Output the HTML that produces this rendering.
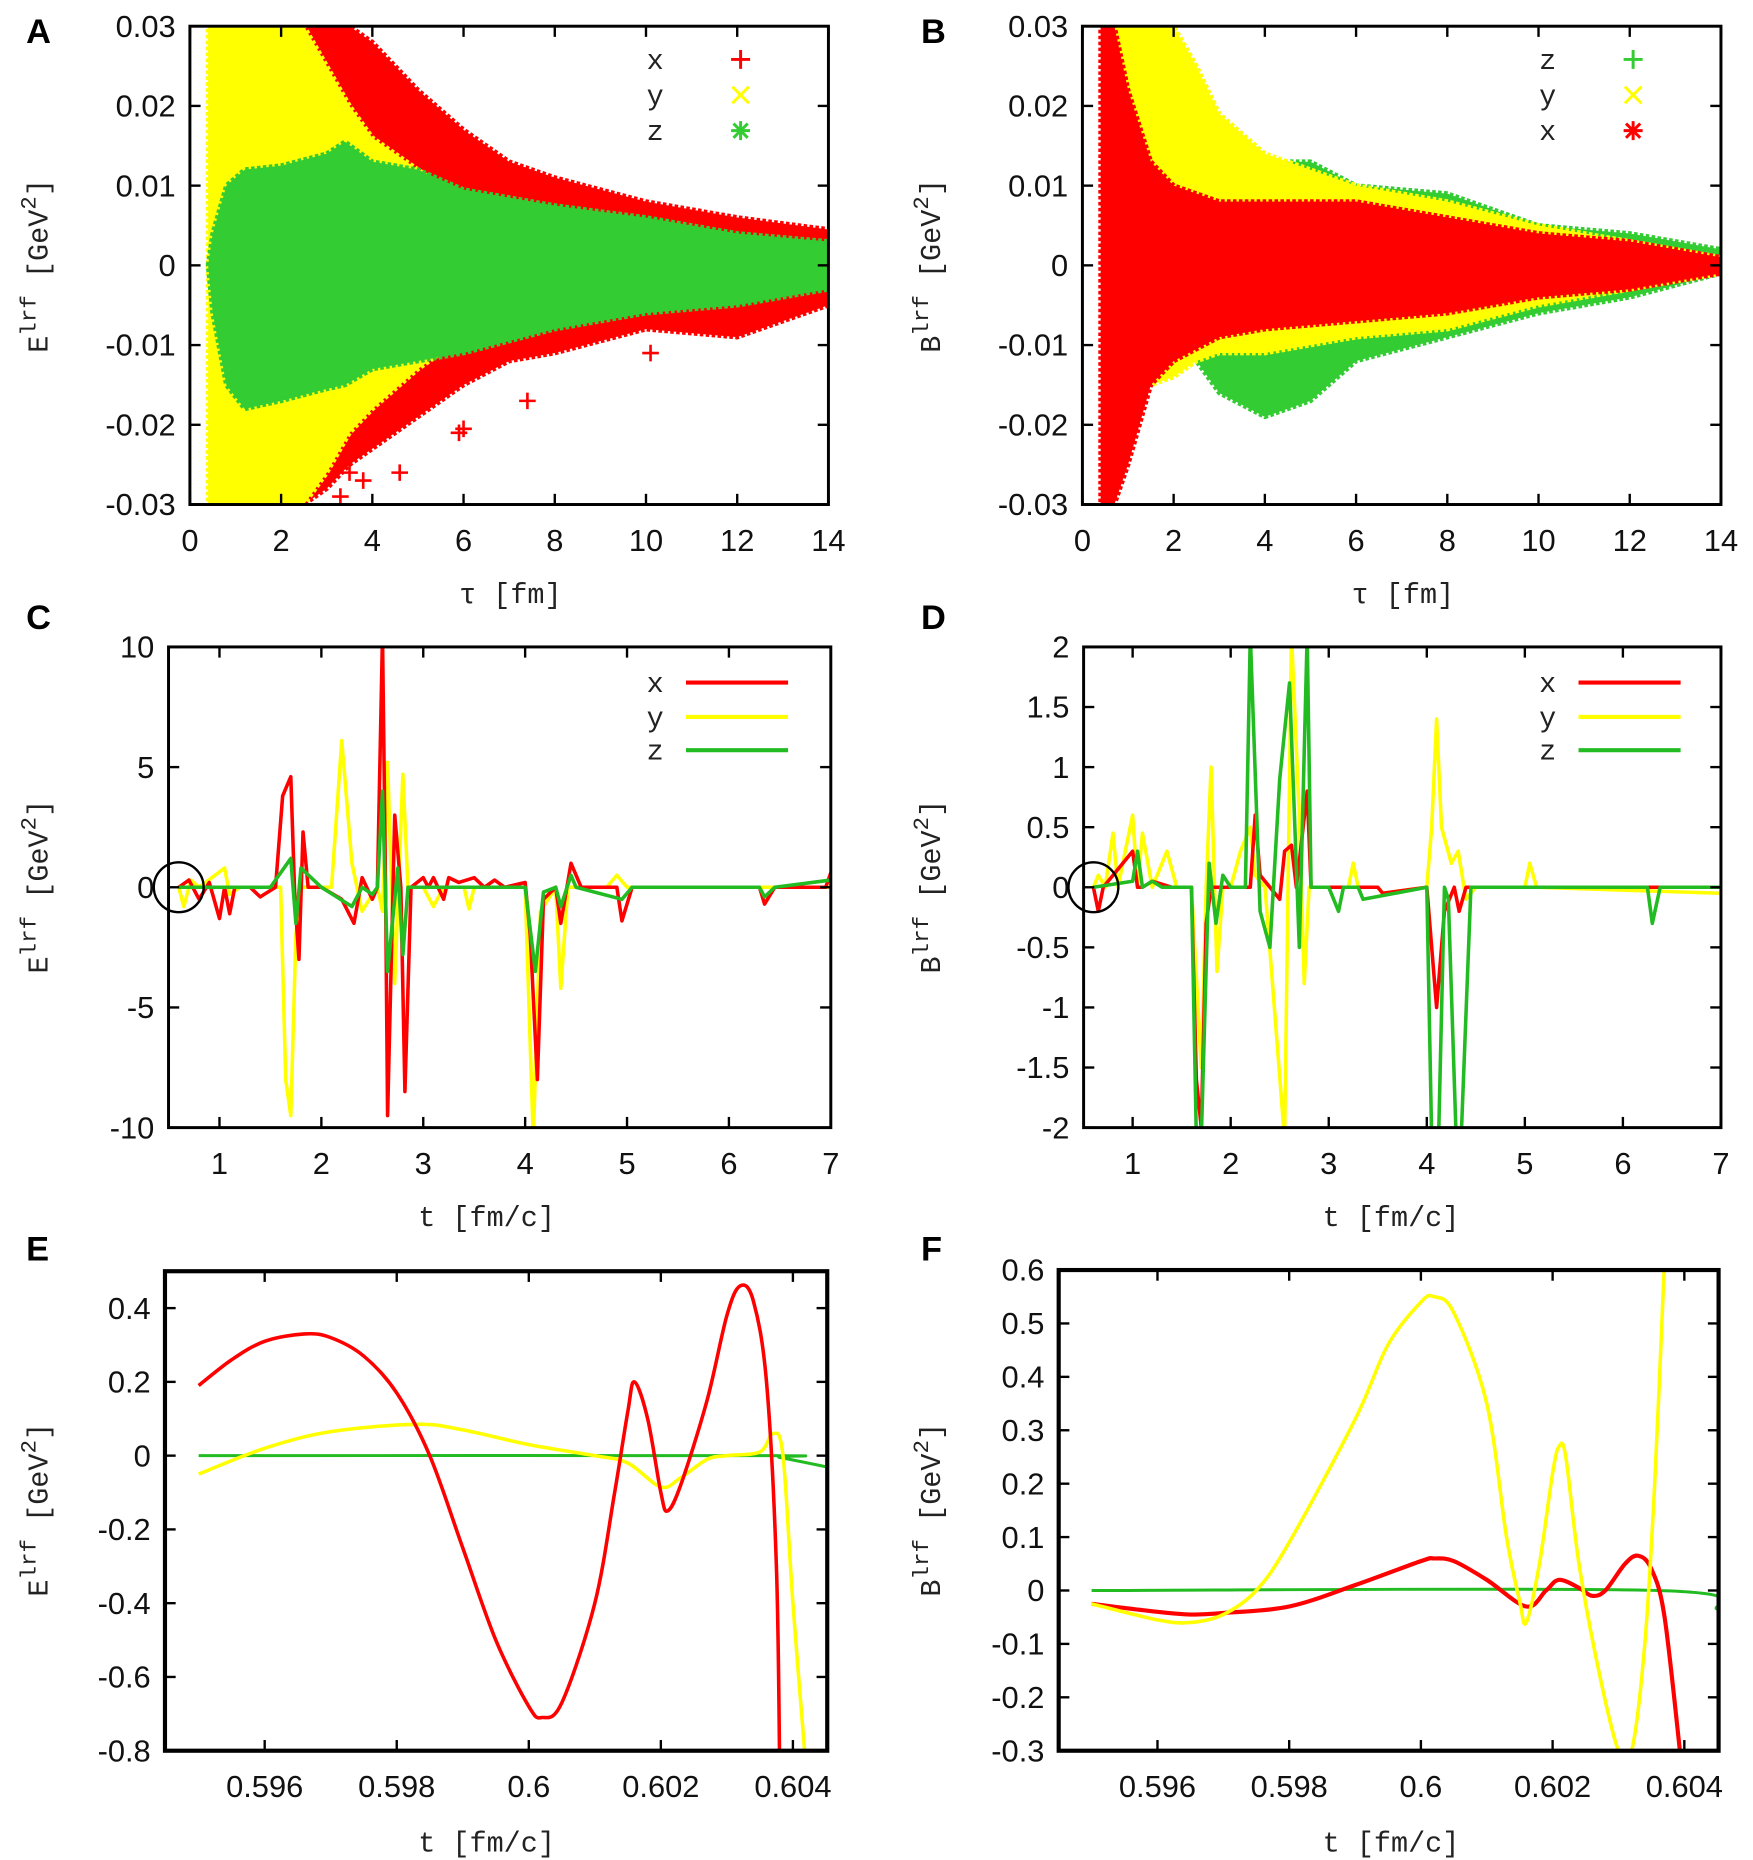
<!DOCTYPE html>
<html><head><meta charset="utf-8">
<style>
html,body{margin:0;padding:0;background:#fff;}
svg{display:block;}
.tick{font-family:"Liberation Sans Narrow","Liberation Sans",sans-serif;font-size:26px;fill:#111;}
.mono{font-family:"Liberation Mono","DejaVu Sans Mono",monospace;font-size:24px;fill:#222;}
.plab{font-family:"Liberation Sans",sans-serif;font-weight:bold;font-size:29px;fill:#000;}
</style></head>
<body>
<svg id="fig" xmlns="http://www.w3.org/2000/svg" width="1753" height="1860" viewBox="0 0 1477 1567">
<rect width="1477" height="1567" fill="#fff"/>
</svg>
<script>
// ---------- Panel A data (envelopes) ----------
const aRedTau=[2.5,3,3.5,4,5,6,7,8,10,12,14];
const aRedUp=[0.03,0.03,0.03,0.028,0.022,0.017,0.013,0.011,0.008,0.006,0.0045];
const aRedLo=[-0.03,-0.028,-0.025,-0.023,-0.019,-0.015,-0.012,-0.011,-0.008,-0.009,-0.005];
const aYelTau=[0.4,0.5,2.5,3,3.5,4,5,5.5];
const aYelUp=[0.03,0.03,0.03,0.025,0.02,0.016,0.012,0.01];
const aYelLo=[-0.03,-0.03,-0.03,-0.026,-0.021,-0.018,-0.013,-0.011];
const aGrnTau=[0.4,0.5,0.8,1.2,2,3,3.4,4,5,6,7,8,10,12,14];
const aGrnUp=[0,0.004,0.01,0.012,0.0125,0.014,0.0155,0.013,0.012,0.0095,0.0085,0.0075,0.006,0.004,0.003];
const aGrnLo=[0,-0.006,-0.015,-0.018,-0.017,-0.0155,-0.015,-0.013,-0.012,-0.011,-0.0095,-0.008,-0.006,-0.005,-0.003];
const aOutTau=[3.3,3.8,4.6,5.9,7.4,10.1,3.5,6.0];
const aOutVal=[-0.029,-0.027,-0.026,-0.021,-0.017,-0.011,-0.026,-0.0205];
// ---------- Panel B data ----------
const bRedTau=[0.4,0.5,0.7,1,1.5,2,3,4,6,8,10,12,14];
const bRedUp=[0.03,0.03,0.03,0.022,0.013,0.01,0.008,0.008,0.008,0.006,0.004,0.003,0.001];
const bRedLo=[-0.03,-0.03,-0.03,-0.025,-0.015,-0.012,-0.009,-0.008,-0.007,-0.006,-0.004,-0.003,-0.001];
const bYelTau=[0.6,1,1.5,2,2.5,3,4,5,6,8,10,12,14];
const bYelUp=[0.03,0.03,0.03,0.03,0.025,0.019,0.014,0.012,0.01,0.008,0.005,0.003,0.001];
const bYelLo=[-0.005,-0.012,-0.015,-0.014,-0.012,-0.011,-0.011,-0.01,-0.009,-0.008,-0.005,-0.003,-0.001];
const bGrnTau=[2.5,3,4,5,6,8,10,12,14];
const bGrnUp=[0.005,0.008,0.013,0.013,0.01,0.009,0.005,0.004,0.002];
const bGrnLo=[-0.012,-0.016,-0.019,-0.017,-0.012,-0.009,-0.006,-0.004,-0.001];
// ---------- Panel C data ----------
const cRedT=[0.6,0.7,0.8,0.9,1.0,1.05,1.1,1.15,1.3,1.4,1.55,1.62,1.7,1.74,1.78,1.82,1.87,2.0,2.2,2.32,2.4,2.5,2.55,2.6,2.63,2.65,2.72,2.78,2.82,2.88,3.0,3.05,3.1,3.2,3.25,3.35,3.5,3.6,3.7,3.8,4.0,4.05,4.12,4.18,4.3,4.35,4.45,4.55,4.9,4.95,5.05,5.5,6.3,6.35,6.45,6.95,7.0];
const cRedV=[0,0.3,-0.5,0.2,-1.3,0,-1.1,0,0,-0.4,0,3.8,4.6,-0.5,-3,2.3,0,0,-0.5,-1.5,0.4,-0.5,0,10.5,0,-9.5,3,0,-8.5,0,0.4,0,0.4,-0.5,0.4,0.2,0.4,0,0.3,0,0.2,-2,-8,-0.5,0,-1.5,1,0,0,-1.4,0,0,0,-0.7,0,0,0.6];
const cYelT=[0.6,0.65,0.72,0.8,1.05,1.1,1.2,1.6,1.65,1.7,1.75,1.8,2.1,2.2,2.3,2.4,2.5,2.55,2.6,2.65,2.72,2.8,2.85,3.0,3.1,3.2,3.4,3.45,3.5,4.0,4.08,4.15,4.3,4.35,4.42,4.8,4.9,5.0,7.0];
const cYelV=[0,-0.8,0.3,0,0.8,-0.3,0,0,-8,-9.5,-2,0,0,6.1,1,-1,-0.3,0,-1,5.2,-4,4.7,0,0,-0.8,0,0,-0.9,0,0,-10.5,-1,0,-4.2,0,0,0.5,0,0];
const cGrnT=[0.6,1.5,1.7,1.75,1.8,2.0,2.3,2.4,2.5,2.55,2.6,2.65,2.75,2.8,2.85,4.0,4.1,4.18,4.3,4.35,4.45,4.5,4.95,5.05,6.3,6.35,6.45,7.0];
const cGrnV=[0,0,1.2,-1.5,0.8,0,-0.8,0,-0.3,0,4,-3.5,0.8,-2.8,0,0,-3.5,-0.2,0,-0.8,0.5,0,-0.5,0,0,-0.4,0,0.3];
// ---------- Panel D data ----------
const dRedT=[0.6,0.65,0.7,0.8,1.0,1.05,1.1,1.2,1.4,1.6,1.65,1.7,1.75,1.8,2.2,2.25,2.3,2.4,2.5,2.55,2.62,2.67,2.78,2.82,3.5,3.55,4.0,4.05,4.1,4.18,4.28,4.33,4.4,7.0];
const dRedV=[0,-0.2,0,0.1,0.3,0,0,0.05,0,0,-1.6,-2,-0.3,0,0,0.6,0.1,0,-0.1,0.3,0.35,0,0.8,0,0,-0.05,0,-0.5,-1,-0.2,0,-0.2,0,0];
const dYelT=[0.6,0.65,0.72,0.8,0.85,1.0,1.05,1.1,1.2,1.35,1.45,1.6,1.7,1.75,1.8,1.86,1.92,2.0,2.1,2.2,2.25,2.35,2.55,2.62,2.7,2.75,2.8,3.2,3.25,3.3,3.5,3.55,4.0,4.05,4.1,4.15,4.25,4.32,4.4,4.5,5.0,5.05,5.12,7.0];
const dYelV=[0,0.1,0,0.45,0,0.6,0,0.45,0,0.3,0,0,-1.5,0,1,-0.7,0,0,0.3,0.5,0.1,0,-2.1,2.1,0.6,-0.8,0,0,0.2,0,0,-0.05,0,0.5,1.4,0.5,0.2,0.3,-0.1,0,0,0.2,0,-0.05];
const dGrnT=[0.6,1.0,1.05,1.1,1.2,1.3,1.6,1.65,1.7,1.78,1.85,1.92,2.0,2.15,2.2,2.3,2.4,2.5,2.6,2.7,2.78,2.82,3.0,3.1,3.15,3.3,3.35,4.0,4.05,4.12,4.18,4.22,4.3,4.35,4.45,6.25,6.3,6.38,7.0];
const dGrnV=[0,0.05,0.3,0,0.05,0,0,-2.1,-2.1,0.2,-0.3,0.1,0,0,2.1,-0.2,-0.5,0.9,1.7,-0.5,2.1,0,0,-0.2,0,0,-0.1,0,-2.1,-2.1,0,-0.1,-2.1,-2.1,0,0,-0.3,0,0];
// ---------- Panel E data ----------
const eRedT=[0.595,0.5955,0.596,0.5966,0.597,0.5975,0.598,0.5985,0.599,0.5995,0.6,0.6002,0.6005,0.601,0.6013,0.6015,0.6016,0.6018,0.602,0.6021,0.6023,0.6027,0.603,0.6032,0.6034,0.6036,0.60375,0.6038];
const eRedV=[0.19,0.26,0.31,0.33,0.32,0.27,0.17,0.0,-0.25,-0.5,-0.68,-0.71,-0.67,-0.4,-0.1,0.12,0.2,0.1,-0.1,-0.15,-0.08,0.15,0.38,0.46,0.42,0.2,-0.3,-0.85];
const eYelT=[0.595,0.596,0.597,0.5983,0.599,0.6,0.601,0.6015,0.602,0.6023,0.6027,0.603,0.6035,0.6037,0.60385,0.604,0.6042];
const eYelV=[-0.05,0.02,0.065,0.085,0.07,0.03,0.0,-0.02,-0.085,-0.06,-0.01,0.0,0.01,0.06,0.0,-0.4,-0.85];
const eGrnT=[0.595,0.6035,0.6038,0.6045];
const eGrnV=[0,0,-0.005,-0.03];
// ---------- Panel F data ----------
const fRedT=[0.595,0.596,0.5965,0.597,0.598,0.599,0.6,0.6002,0.6005,0.601,0.6016,0.6019,0.6021,0.6024,0.6026,0.6028,0.6031,0.6033,0.6035,0.6037,0.60395];
const fRedV=[-0.025,-0.04,-0.045,-0.042,-0.03,0.01,0.055,0.06,0.055,0.02,-0.03,0.0,0.02,0.005,-0.01,0.0,0.05,0.065,0.04,-0.05,-0.32];
const fYelT=[0.595,0.596,0.5965,0.597,0.5975,0.598,0.599,0.5995,0.6,0.6002,0.6005,0.601,0.6013,0.6015,0.6016,0.6018,0.602,0.6021,0.6022,0.6024,0.6027,0.603,0.6032,0.6034,0.60355,0.6037];
const fYelV=[-0.025,-0.055,-0.06,-0.045,0.0,0.09,0.32,0.46,0.54,0.55,0.52,0.35,0.1,-0.02,-0.06,0.05,0.22,0.27,0.25,0.05,-0.15,-0.3,-0.3,-0.1,0.2,0.62];
const fGrnT=[0.595,0.6036,0.6045];
const fGrnV=[0,0,-0.035];
// tick labels
const tauTicks=[0,2,4,6,8,10,12,14];
const abYTicks=[-0.03,-0.02,-0.01,0,0.01,0.02,0.03];
const abYLabels=["-0.03","-0.02","-0.01","0","0.01","0.02","0.03"];
const cdXTicks=[1,2,3,4,5,6,7];
const cYTicks=[-10,-5,0,5,10];
const dYTicks=[-2,-1.5,-1,-0.5,0,0.5,1,1.5,2];
const efXTicks=[0.596,0.598,0.6,0.602,0.604];
const efXLabels=["0.596","0.598","0.6","0.602","0.604"];
const eYTicks=[-0.8,-0.6,-0.4,-0.2,0,0.2,0.4];
const fYTicks=[-0.3,-0.2,-0.1,0,0.1,0.2,0.3,0.4,0.5,0.6];

const NS="http://www.w3.org/2000/svg";
const svg=document.getElementById('fig');
const RED="#ff0000",YEL="#ffff00",GRN="#33cc33";
function mk(tag,attrs,parent){const e=document.createElementNS(NS,tag);for(const k in attrs)e.setAttribute(k,attrs[k]);(parent||svg).appendChild(e);return e;}

function panel(id,p){
  const g=mk('g',{});
  
  
  const sx=v=>p.x0+(v-p.xmin)/(p.xmax-p.xmin)*(p.x1-p.x0);
  const sy=v=>p.y1-(v-p.ymin)/(p.ymax-p.ymin)*(p.y1-p.y0);
  const cid='clip-'+id;
  const cp=mk('clipPath',{id:cid},g);mk('rect',{x:p.x0,y:p.y0,width:p.x1-p.x0,height:p.y1-p.y0},cp);
  const data=mk('g',{'clip-path':'url(#'+cid+')'},g);
  
  
  return {g,data,sx,sy,p};
}
function axes(P,id,xt,xl,yt,yl,bw){
  const {g,sx,sy,p}=P;
  const ax=mk('g',{},g);
  
  
  xt.forEach((v,i)=>{const x=sx(v);
    mk('line',{x1:x,y1:p.y1,x2:x,y2:p.y1-9,stroke:'#000','stroke-width':2},ax);
    mk('line',{x1:x,y1:p.y0,x2:x,y2:p.y0+9,stroke:'#000','stroke-width':2},ax);
    const t=mk('text',{x:x,y:p.y1+39,'text-anchor':'middle',class:'tick'},ax);t.textContent=xl[i];
    
    });
  yt.forEach((v,i)=>{const y=sy(v);
    mk('line',{x1:p.x0,y1:y,x2:p.x0+9,y2:y,stroke:'#000','stroke-width':2},ax);
    mk('line',{x1:p.x1,y1:y,x2:p.x1-9,y2:y,stroke:'#000','stroke-width':2},ax);
    const t=mk('text',{x:p.x0-12,y:y+9,'text-anchor':'end',class:'tick'},ax);t.textContent=yl[i];
    
    });
  mk('rect',{x:p.x0,y:p.y0,width:p.x1-p.x0,height:p.y1-p.y0,fill:'none',stroke:'#000','stroke-width':bw||2.5},ax);
}
function band(P,ts,up,lo,col,name){
  const pts=ts.map((t,i)=>P.sx(t)+','+P.sy(up[i])).concat(ts.slice().reverse().map((t,j)=>{const i=ts.length-1-j;return P.sx(t)+','+P.sy(lo[i]);}));
  const e=mk('polygon',{points:pts.join(' '),fill:col,stroke:col,'stroke-width':4,'stroke-linejoin':'round','stroke-dasharray':'3 2'},P.data);
  
  
}
function line(P,ts,vs,col,w,name){
  const pts=ts.map((t,i)=>P.sx(t)+','+P.sy(vs[i])).join(' ');
  const e=mk('polyline',{points:pts,fill:'none',stroke:col,'stroke-width':w,'stroke-linejoin':'round'},P.data);
  
  
}
function smooth(P,ts,vs,col,w,name){
  const p=ts.map((t,i)=>[P.sx(t),P.sy(vs[i])]);
  let d='M'+p[0][0]+','+p[0][1];
  for(let i=0;i<p.length-1;i++){
    const p0=p[Math.max(0,i-1)],p1=p[i],p2=p[i+1],p3=p[Math.min(p.length-1,i+2)];
    const c1x=p1[0]+(p2[0]-p0[0])/6,c1y=p1[1]+(p2[1]-p0[1])/6;
    const c2x=p2[0]-(p3[0]-p1[0])/6,c2y=p2[1]-(p3[1]-p1[1])/6;
    d+=` C${c1x},${c1y} ${c2x},${c2y} ${p2[0]},${p2[1]}`;
  }
  const e=mk('path',{d:d,fill:'none',stroke:col,'stroke-width':w,'stroke-linejoin':'round'},P.data);
  
  
}
function txt(x,y,s,cls,extra){const t=mk('text',Object.assign({x:x,y:y,class:cls},extra||{}));t.textContent=s;return t;}
function ylabel(x,cy,letter){
  const t=mk('text',{transform:'translate('+x+','+cy+') rotate(-90)','text-anchor':'middle',class:'mono'});
  
  
  t.innerHTML=letter+'<tspan dy="-10" font-size="19">lrf</tspan><tspan dy="10"> [GeV</tspan><tspan dy="-10" font-size="19">2</tspan><tspan dy="10">]</tspan>';
}
function xlabel(x,y,s){const t=txt(x,y,s,'mono',{'text-anchor':'middle'});
  
  }
function plabel(x,y,s){const t=txt(x,y,s,'plab');
  
  }
function plus(P,x,y,col,g){mk('path',{d:`M${x-7},${y}h14M${x},${y-7}v14`,stroke:col,'stroke-width':2.2,fill:'none'},g);}
function legendMarkers(x,y,key,col,type,g){
  const t=txt(x,y+8,key,'mono',{'text-anchor':'middle'},g);
  
  
  const mx=x+72;
  if(type==='+')mk('path',{d:`M${mx-8},${y}h16M${mx},${y-8}v16`,stroke:col,'stroke-width':2.5});
  else if(type==='x')mk('path',{d:`M${mx-7},${y-7}l14,14M${mx-7},${y+7}l14,-14`,stroke:col,'stroke-width':2.5});
  else mk('path',{d:`M${mx-8},${y}h16M${mx},${y-8}v16M${mx-6},${y-6}l12,12M${mx-6},${y+6}l12,-12`,stroke:col,'stroke-width':2.5});
}
function legendLine(x,y,key,col){
  const t=txt(x,y+8,key,'mono',{'text-anchor':'middle'});
  
  
  const l=mk('line',{x1:x+26,y1:y,x2:x+112,y2:y,stroke:col,'stroke-width':3.5});
  
  
}
const fmt=v=>String(v);

// ---- A ----
const A=panel('a',{x0:160,x1:698,y0:22,y1:425,xmin:0,xmax:14,ymin:-0.03,ymax:0.03});
band(A,aRedTau,aRedUp,aRedLo,RED,'series-x-band');
band(A,aYelTau,aYelUp,aYelLo,YEL,'series-y-band');
band(A,aGrnTau,aGrnUp,aGrnLo,GRN,'series-z-band');
aOutTau.forEach((t,i)=>plus(A,A.sx(t),A.sy(aOutVal[i]),RED,A.data));
axes(A,'a',tauTicks,tauTicks.map(fmt),abYTicks,abYLabels);
legendMarkers(552,50,'x',RED,'+');legendMarkers(552,80,'y',YEL,'x');legendMarkers(552,110,'z',GRN,'*');
xlabel(430,508,'τ [fm]');ylabel(40,224,'E');plabel(22,36,'A');
// ---- B ----
const B=panel('b',{x0:912,x1:1450,y0:22,y1:425,xmin:0,xmax:14,ymin:-0.03,ymax:0.03});
band(B,bGrnTau,bGrnUp,bGrnLo,GRN,'series-z-band');
band(B,bYelTau,bYelUp,bYelLo,YEL,'series-y-band');
band(B,bRedTau,bRedUp,bRedLo,RED,'series-x-band');
axes(B,'b',tauTicks,tauTicks.map(fmt),abYTicks,abYLabels);
legendMarkers(1304,50,'z',GRN,'+');legendMarkers(1304,80,'y',YEL,'x');legendMarkers(1304,110,'x',RED,'*');
xlabel(1182,508,'τ [fm]');ylabel(792,224,'B');plabel(776,36,'B');
// ---- C ----
const C=panel('c',{x0:142,x1:700,y0:545,y1:950,xmin:0.5,xmax:7,ymin:-10,ymax:10});
line(C,cYelT,cYelV,YEL,3,'series-y-line');
line(C,cRedT,cRedV,RED,3,'series-x-line');
line(C,cGrnT,cGrnV,'#22bb22',3,'series-z-line');
const cc=mk('circle',{cx:C.sx(0.6),cy:C.sy(0),r:21,fill:'none',stroke:'#000','stroke-width':2});


axes(C,'c',cdXTicks,cdXTicks.map(fmt),cYTicks,cYTicks.map(fmt));
legendLine(552,575,'x',RED);legendLine(552,604,'y',YEL);legendLine(552,632,'z','#22bb22');
xlabel(410,1033,'t  [fm/c]');ylabel(40,747,'E');plabel(22,530,'C');
// ---- D ----
const D=panel('d',{x0:913,x1:1450,y0:545,y1:950,xmin:0.5,xmax:7,ymin:-2,ymax:2});
line(D,dYelT,dYelV,YEL,3,'series-y-line');
line(D,dRedT,dRedV,RED,3,'series-x-line');
line(D,dGrnT,dGrnV,'#22bb22',3,'series-z-line');
const dc=mk('circle',{cx:D.sx(0.6),cy:D.sy(0),r:21,fill:'none',stroke:'#000','stroke-width':2});


axes(D,'d',cdXTicks,cdXTicks.map(fmt),dYTicks,dYTicks.map(fmt));
legendLine(1304,575,'x',RED);legendLine(1304,604,'y',YEL);legendLine(1304,632,'z','#22bb22');
xlabel(1172,1033,'t  [fm/c]');ylabel(792,747,'B');plabel(776,530,'D');
// ---- E ----
const E=panel('e',{x0:139,x1:697,y0:1071,y1:1475,xmin:0.59449,xmax:0.60452,ymin:-0.8,ymax:0.5});
smooth(E,eGrnT,eGrnV,'#22bb22',2.5,'series-z-line');
smooth(E,eYelT,eYelV,YEL,3,'series-y-line');
smooth(E,eRedT,eRedV,RED,3,'series-x-line');
axes(E,'e',efXTicks,efXLabels,eYTicks,eYTicks.map(fmt),3.5);
xlabel(410,1560,'t  [fm/c]');ylabel(40,1272,'E');plabel(22,1062,'E');
// ---- F ----
const F=panel('f',{x0:892,x1:1448,y0:1070,y1:1475,xmin:0.5945,xmax:0.60452,ymin:-0.3,ymax:0.6});
smooth(F,fGrnT,fGrnV,'#22bb22',2.5,'series-z-line');
smooth(F,fRedT,fRedV,RED,3.5,'series-x-line');
smooth(F,fYelT,fYelV,YEL,3,'series-y-line');
axes(F,'f',efXTicks,efXLabels,fYTicks,fYTicks.map(fmt),3.5);
xlabel(1172,1560,'t  [fm/c]');ylabel(792,1272,'B');plabel(776,1062,'F');
</script>
</body></html>
